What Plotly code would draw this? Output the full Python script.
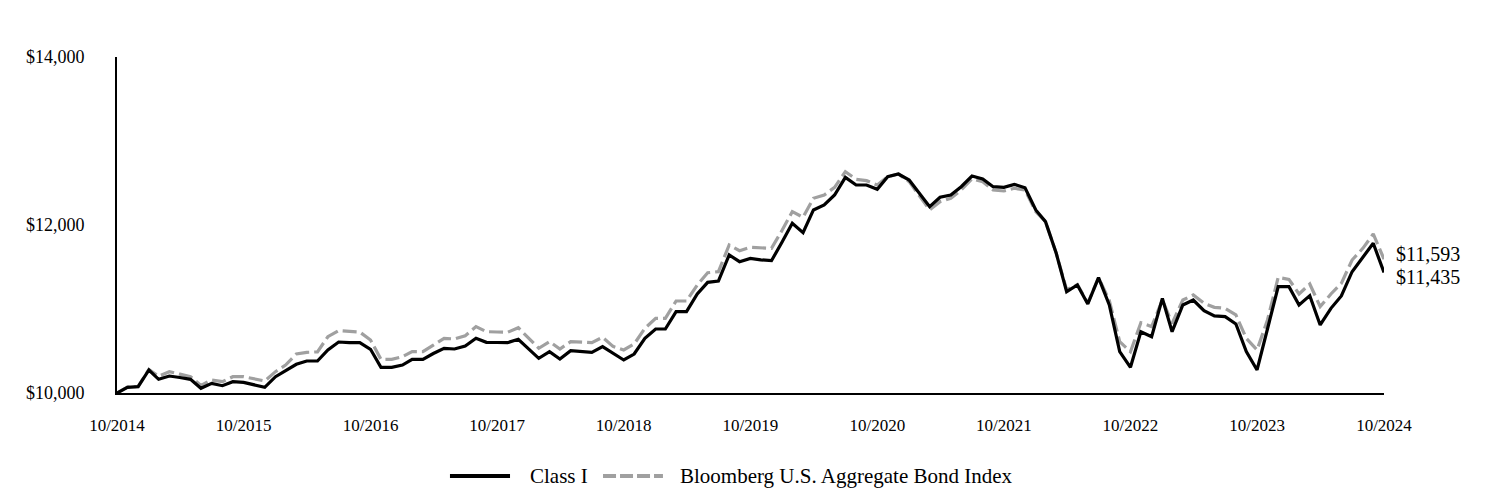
import pandas as pd
import plotly.graph_objects as go

# monthly values, 10/2014 .. 10/2024 (growth of $10,000)
months = pd.date_range("2014-10-31", periods=121, freq="ME")

class_i = [
    10000, 10068, 10075, 10274, 10163, 10202, 10185, 10163, 10056, 10115,
    10087, 10135, 10127, 10100, 10068, 10194, 10265, 10342, 10381, 10381,
    10512, 10607, 10600, 10599, 10520, 10306, 10306, 10333, 10401, 10401,
    10470, 10532, 10524, 10560, 10651, 10603, 10601, 10599, 10639, 10526,
    10413, 10492, 10405, 10504, 10494, 10484, 10552, 10473, 10393, 10464,
    10651, 10762, 10762, 10968, 10968, 11179, 11317, 11333, 11643, 11563,
    11603, 11585, 11575, 11800, 12020, 11908, 12179, 12238, 12357, 12567,
    12476, 12476, 12425, 12575, 12607, 12536, 12380, 12218, 12330, 12357,
    12456, 12583, 12548, 12456, 12448, 12484, 12444, 12179, 12040, 11663,
    11206, 11286, 11060, 11373, 11048, 10492, 10306, 10730, 10670, 11127,
    10730, 11048, 11107, 10980, 10917, 10909, 10821, 10492, 10274, 10770,
    11266, 11266, 11048, 11159, 10810, 11008, 11155, 11444, 11615, 11782,
    11435,
]

bloomberg = [
    10000, 10070, 10080, 10280, 10200, 10254, 10224, 10194, 10090, 10155,
    10135, 10194, 10194, 10170, 10143, 10254, 10333, 10464, 10484, 10490,
    10670, 10742, 10735, 10726, 10631, 10401, 10401, 10432, 10492, 10492,
    10570, 10651, 10643, 10682, 10790, 10730, 10726, 10722, 10777, 10655,
    10532, 10611, 10524, 10611, 10605, 10599, 10663, 10555, 10512, 10583,
    10770, 10889, 10889, 11095, 11095, 11286, 11432, 11444, 11762, 11694,
    11734, 11732, 11722, 11940, 12159, 12092, 12318, 12357, 12448, 12635,
    12544, 12528, 12476, 12575, 12607, 12516, 12350, 12179, 12278, 12318,
    12417, 12548, 12516, 12417, 12405, 12437, 12417, 12159, 12040, 11663,
    11230, 11290, 11070, 11373, 11100, 10611, 10492, 10837, 10790, 11107,
    10829, 11107, 11167, 11068, 11020, 11008, 10929, 10651, 10512, 10869,
    11377, 11353, 11179, 11298, 11028, 11179, 11306, 11583, 11722, 11893,
    11593,
]

tick_dates = months[::12]
y_ticks = [10000, 12000, 14000]
y_tick_text = ["$10,000", "$12,000", "$14,000"]

serif = "Liberation Serif, Times New Roman, serif"
BLACK = "#000000"
GREY = "#a0a0a0"
GREY_DASH = "14px,5px"

fig = go.Figure()
# index first so the fund line sits on top
fig.add_trace(go.Scatter(
    x=months, y=bloomberg, mode="lines", name="Bloomberg U.S. Aggregate Bond Index",
    line=dict(color=GREY, width=3.2, dash=GREY_DASH), showlegend=False,
))
fig.add_trace(go.Scatter(
    x=months, y=class_i, mode="lines", name="Class I",
    line=dict(color=BLACK, width=3.2), showlegend=False,
))

# end-value labels
fig.add_annotation(x=months[-1], y=11650, text="$11,593", showarrow=False,
                   xanchor="left", xshift=10, font=dict(size=20, color="black", family=serif))
fig.add_annotation(x=months[-1], y=11385, text="$11,435", showarrow=False,
                   xanchor="left", xshift=10, font=dict(size=20, color="black", family=serif))

# legend drawn by hand (plotly's sample lines are too short)
leg_y = -0.247
fig.add_shape(type="line", xref="paper", yref="paper", x0=0.2628, x1=0.3102,
              y0=leg_y, y1=leg_y, line=dict(color=BLACK, width=4))
fig.add_annotation(xref="paper", yref="paper", x=0.3244, y=leg_y, text="Class I",
                   showarrow=False, xanchor="left", yanchor="middle",
                   font=dict(size=21, color="black", family=serif))
fig.add_shape(type="line", xref="paper", yref="paper", x0=0.3836, x1=0.4309,
              y0=leg_y, y1=leg_y, line=dict(color=GREY, width=4, dash="13px,4px"))
fig.add_annotation(xref="paper", yref="paper", x=0.4428, y=leg_y,
                   text="Bloomberg U.S. Aggregate Bond Index",
                   showarrow=False, xanchor="left", yanchor="middle",
                   font=dict(size=21, color="black", family=serif))

fig.update_xaxes(
    range=[months[0], months[-1]],
    tickvals=tick_dates, tickformat="%m/%Y",
    showline=True, linecolor="black", linewidth=2,
    showgrid=False, zeroline=False, ticks="",
    ticklabelstandoff=16, automargin=False,
    tickfont=dict(size=17, color="black", family=serif),
)
fig.update_yaxes(
    range=[10000, 14000],
    tickvals=y_ticks, ticktext=y_tick_text,
    showline=True, linecolor="black", linewidth=2,
    showgrid=False, zeroline=False, ticks="",
    ticklabelstandoff=27, automargin=False,
    tickfont=dict(size=18, color="black", family=serif),
)

fig.update_layout(
    width=1488, height=492,
    margin=dict(l=117, r=104, t=57, b=99),
    plot_bgcolor="white", paper_bgcolor="white",
    font=dict(family=serif, color="black"),
    showlegend=False,
)

# drop the default 8px body margin so the figure fills the window
fig.write_html("out.html", config={"displayModeBar": False},
               post_script="document.body.style.margin='0';")
